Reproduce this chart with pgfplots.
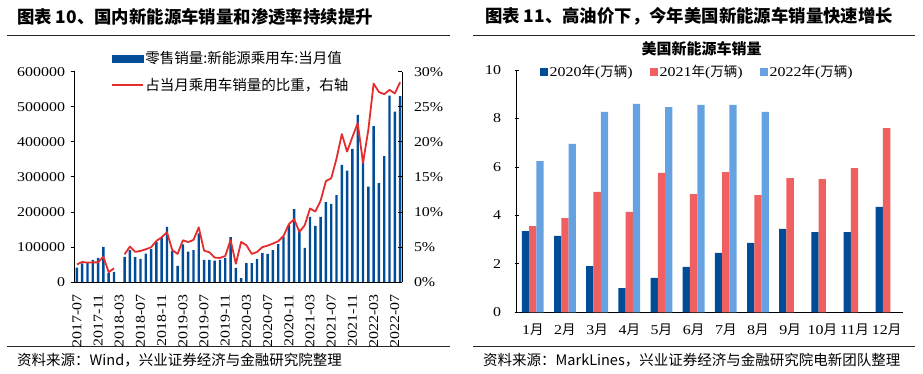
\documentclass[border=0pt]{standalone}
\usepackage{fontspec}
\setmainfont{Liberation Serif}[FakeStretch=1.18]
\newfontfamily\cjk{Noto Sans CJK SC}
\usepackage{pgfplots}
\pgfplotsset{compat=1.18}
\usepackage{pgfplotstable}
\definecolor{dblue}{RGB}{0,76,151}
\definecolor{lred}{RGB}{228,45,45}
\definecolor{salmon}{RGB}{240,96,96}
\definecolor{lblue}{RGB}{102,161,226}
\pgfplotsset{
  sqleg/.style={legend image code/.code={\fill[##1] (0pt,-4pt) rectangle (8pt,4pt);}},
  lineleg/.style={legend image code/.code={\draw[##1] (0pt,0pt) -- (31pt,0pt);}},
  barleg/.style={legend image code/.code={\fill[dblue] (0pt,-3.8pt) rectangle (31pt,3.8pt);}},
}

\pgfplotstableread{
i sales share
0 41000 2.5
1 53000 2.86
2 55000 2.76
3 63000 2.8
4 69000 2.8
5 100000 3.6
6 25000 1.4
7 29000 1.95
8 nan nan
9 72000 3.95
10 91000 5.05
11 71000 4.3
12 66000 4.43
13 81000 4.67
14 94000 4.95
15 114000 5.86
16 127000 6.38
17 157000 7.1
18 88000 4.57
19 46000 4.0
20 107000 5.95
21 87000 5.7
22 91000 6.0
23 139000 7.8
24 63000 4.48
25 63000 4.24
26 61000 3.48
27 63000 3.43
28 69000 3.71
29 128000 6.0
30 40000 2.6
31 11000 5.71
32 54000 5.24
33 54000 4.0
34 66000 4.29
35 83000 4.97
36 80000 5.19
37 91000 5.48
38 108000 5.81
39 129000 6.57
40 162000 8.24
41 208000 8.95
42 150000 7.14
43 97000 8.1
44 186000 10.48
45 160000 10.05
46 186000 11.6
47 228000 14.4
48 223000 14.8
49 248000 17.6
50 334000 21.1
51 318000 18.6
52 380000 20.7
53 477000 22.67
54 360000 17.0
55 272000 21.7
56 445000 28.3
57 282000 27.1
58 359000 26.8
59 532000 27.4
60 486000 26.9
61 530000 28.5
}\cn

\pgfplotstableread{
m y2020 y2021 y2022
1 3.35 3.56 6.24
2 3.15 3.89 6.95
3 1.91 4.97 8.27
4 1.00 4.14 8.60
5 1.42 5.75 8.47
6 1.87 4.88 8.56
7 2.45 5.79 8.56
8 2.86 4.84 8.27
9 3.44 5.54 nan
10 3.31 5.50 nan
11 3.31 5.95 nan
12 4.35 7.60 nan
}\us

\begin{document}
\begin{tikzpicture}
\path[use as bounding box] (0,0) rectangle (923pt,374pt);

% titles and rules
\node[anchor=west, inner sep=0pt, font=\cjk\bfseries\fontsize{17.4}{18}\selectfont] at (17pt,357.3pt) {图表 10、国内新能源车销量和渗透率持续提升};
\node[anchor=west, inner sep=0pt, font=\cjk\bfseries\fontsize{17.4}{18}\selectfont] at (485pt,357.3pt) {图表 11、高油价下，今年美国新能源车销量快速增长};
\draw[line width=0.8pt, black!85] (7pt,339pt) -- (450pt,339pt);
\draw[line width=0.8pt, black!85] (473pt,339pt) -- (915pt,339pt);
\draw[line width=0.8pt, black!85] (7pt,27.3pt) -- (450pt,27.3pt);
\draw[line width=0.8pt, black!85] (473pt,27.3pt) -- (915pt,27.3pt);
\node[anchor=west, inner sep=0pt, font=\cjk\fontsize{14.5}{15}\selectfont] at (17pt,14pt) {资料来源：Wind，兴业证券经济与金融研究院整理};
\node[anchor=west, inner sep=0pt, font=\cjk\fontsize{14.5}{15}\selectfont] at (483pt,14pt) {资料来源：MarkLines，兴业证券经济与金融研究院电新团队整理};
\node[inner sep=0pt, font=\cjk\bfseries\fontsize{15}{16}\selectfont] at (701.7pt,325pt) {美国新能源车销量};

% left chart: bars
\begin{axis}[
  at={(74.5pt,92pt)}, anchor=south west, scale only axis,
  width=328pt, height=210.3pt,
  xmin=-0.45, xmax=61.45, ymin=0, ymax=600000,
  axis x line*=bottom, axis y line*=left,
  axis line style={black, line width=0.8pt},
  xtick={0,4,...,60},
  xticklabels={2017-07,2017-11,2018-03,2018-07,2018-11,2019-03,2019-07,2019-11,2020-03,2020-07,2020-11,2021-03,2021-07,2021-11,2022-03,2022-07},
  x tick style={draw=none},
  ytick={0,100000,200000,300000,400000,500000,600000},
  yticklabels={0,100000,200000,300000,400000,500000,600000},
  scaled y ticks=false,
  y tick style={black, line width=0.7pt},
  tick align=outside, major tick length=4pt,
  tick label style={font=\fontsize{13.5}{14}\selectfont},
  xticklabel style={yshift=-8pt, rotate=90, anchor=east, inner sep=0pt},
  yticklabel style={xshift=-2pt},
]
\addplot[ybar, bar width=2.4pt, fill=dblue, draw=none] table[x=i, y=sales] {\cn};
\end{axis}

% left chart: share line on right axis
\begin{axis}[
  at={(74.5pt,92pt)}, anchor=south west, scale only axis,
  width=328pt, height=210.3pt,
  xmin=-0.45, xmax=61.45, ymin=0, ymax=30,
  axis x line=none, axis y line*=right,
  axis line style={black, line width=0.8pt},
  ytick={0,5,10,15,20,25,30},
  yticklabels={0\%,5\%,10\%,15\%,20\%,25\%,30\%},
  y tick style={black, line width=0.7pt},
  tick align=inside, major tick length=4pt,
  tick label style={font=\fontsize{13.5}{14}\selectfont},
  yticklabel style={xshift=8pt},
  unbounded coords=jump,
  legend style={draw=none, fill=none, at={(0.111,1.103)}, anchor=north west,
    font=\cjk\fontsize{14.5}{15}\selectfont, row sep=10pt, inner sep=0pt,
    nodes={inner sep=1.5pt}},
  legend cell align=left,
]
\addlegendimage{barleg}
\addlegendentry{零售销量:新能源乘用车:当月值}
\addplot[lred, line width=1.8pt, line join=round, lineleg] table[x=i, y=share] {\cn};
\addlegendentry{占当月乘用车销量的比重，右轴}
\end{axis}

% right chart
\begin{axis}[
  at={(516.7pt,61.7pt)}, anchor=south west, scale only axis,
  width=386pt, height=242.3pt,
  xmin=0.5, xmax=12.5, ymin=0, ymax=10,
  axis x line*=bottom, axis y line*=left,
  axis line style={black, line width=0.8pt},
  ybar=0pt, bar width=7.3pt,
  xtick={1,...,12},
  xticklabels={1{\cjk 月},2{\cjk 月},3{\cjk 月},4{\cjk 月},5{\cjk 月},6{\cjk 月},7{\cjk 月},8{\cjk 月},9{\cjk 月},10{\cjk 月},11{\cjk 月},12{\cjk 月}},
  x tick style={draw=none},
  ytick={0,2,4,6,8,10}, yticklabels={0,2,4,6,8,10},
  y tick style={black, line width=0.7pt},
  tick align=center, major tick length=4pt,
  tick label style={font=\fontsize{13.5}{14}\selectfont},
  xticklabel style={yshift=-6pt},
  yticklabel style={xshift=-10pt},
  legend columns=3,
  legend style={draw=none, fill=none, at={(0.0604,0.993)}, anchor=west,
    font=\fontsize{13.5}{14}\selectfont, inner sep=0pt,
    nodes={inner sep=1.5pt},
    /tikz/every even column/.append style={column sep=16pt}},
]
\addplot[fill=dblue, draw=none, sqleg] table[x=m, y=y2020] {\us};
\addlegendentry{2020{\cjk 年}({\cjk 万辆})}
\addplot[fill=salmon, draw=none, sqleg] table[x=m, y=y2021] {\us};
\addlegendentry{2021{\cjk 年}({\cjk 万辆})}
\addplot[fill=lblue, draw=none, sqleg] table[x=m, y=y2022] {\us};
\addlegendentry{2022{\cjk 年}({\cjk 万辆})}
\end{axis}
\end{tikzpicture}
\end{document}
